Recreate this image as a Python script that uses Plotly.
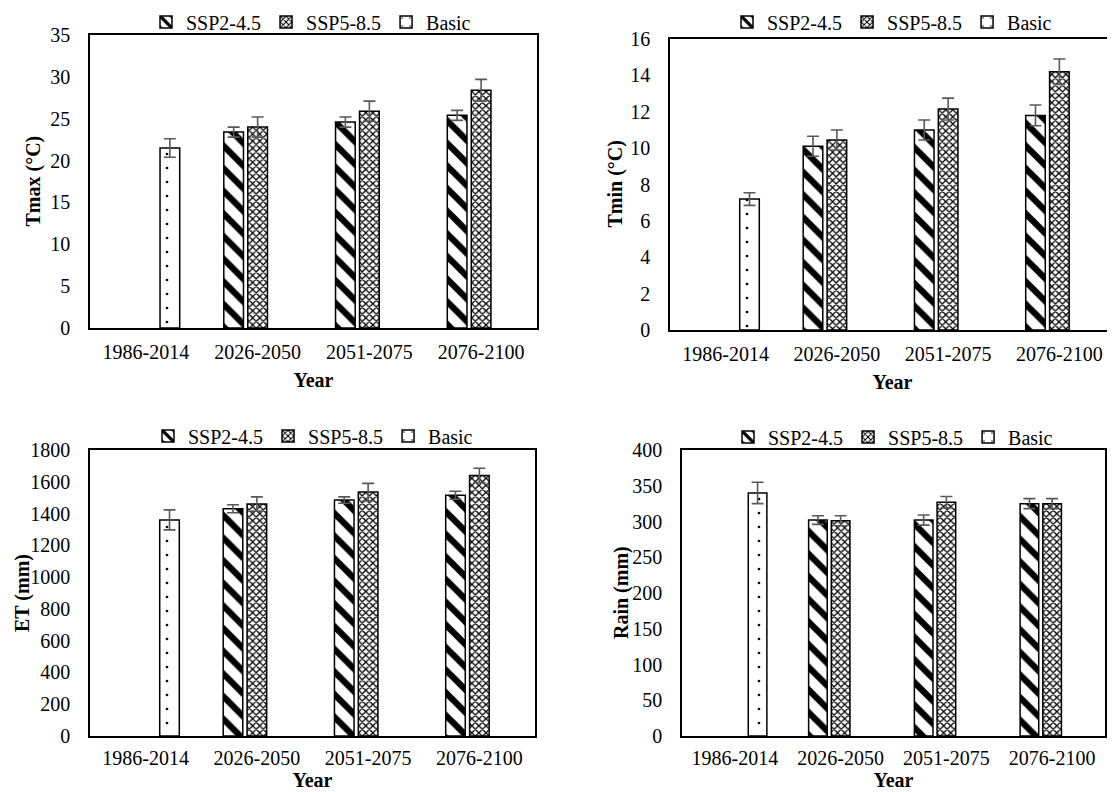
import plotly.graph_objects as go

periods = ["1986-2014", "2026-2050", "2051-2075", "2076-2100"]
future = periods[1:]
base = periods[:1]

tmax_ssp245 = [23.4, 24.6, 25.4]
tmax_ssp245_err = [0.6, 0.6, 0.6]
tmax_ssp585 = [24.0, 25.9, 28.4]
tmax_ssp585_err = [1.2, 1.2, 1.3]
tmax_basic = [21.5]
tmax_basic_err = [1.1]

tmin_ssp245 = [10.1, 11.0, 11.8]
tmin_ssp245_err = [0.55, 0.55, 0.57]
tmin_ssp585 = [10.45, 12.15, 14.2]
tmin_ssp585_err = [0.55, 0.6, 0.7]
tmin_basic = [7.2]
tmin_basic_err = [0.35]

et_ssp245 = [1430, 1485, 1515]
et_ssp245_err = [25, 20, 25]
et_ssp585 = [1460, 1535, 1640]
et_ssp585_err = [45, 55, 45]
et_basic = [1360]
et_basic_err = [63]

rain_ssp245 = [302, 302, 325]
rain_ssp245_err = [6, 7, 7]
rain_ssp585 = [301, 327, 325]
rain_ssp585_err = [7, 8, 7]
rain_basic = [340]
rain_basic_err = [15]

panels = [
    dict(ssp245=tmax_ssp245, e245=tmax_ssp245_err, ssp585=tmax_ssp585, e585=tmax_ssp585_err,
         basic=tmax_basic, eb=tmax_basic_err, ytitle="Tmax (°C)", yrange=[0, 35], dtick=5),
    dict(ssp245=tmin_ssp245, e245=tmin_ssp245_err, ssp585=tmin_ssp585, e585=tmin_ssp585_err,
         basic=tmin_basic, eb=tmin_basic_err, ytitle="Tmin (°C)", yrange=[0, 16], dtick=2),
    dict(ssp245=et_ssp245, e245=et_ssp245_err, ssp585=et_ssp585, e585=et_ssp585_err,
         basic=et_basic, eb=et_basic_err, ytitle="ET (mm)", yrange=[0, 1800], dtick=200),
    dict(ssp245=rain_ssp245, e245=rain_ssp245_err, ssp585=rain_ssp585, e585=rain_ssp585_err,
         basic=rain_basic, eb=rain_basic_err, ytitle="Rain (mm)", yrange=[0, 400], dtick=50),
]

# the page body has an 8px margin, so the figure is drawn 8px in from the top-left corner
W, H = 1107, 784
# plot-area pixel boxes in figure coordinates: (left, right, top, bottom)
boxes = [(82, 529, 27, 320), (662, 1107, 31, 322), (82, 527, 442, 728), (674, 1097, 442, 728)]
legend_pos = [(303, 14), (884, 14), (305, 428), (885, 429)]
ytitle_x = [25, 607, 14, 613]
xlab_standoff = [5, 5, 3, 3]
xtitle_standoff = [11, 11, 5, 5]

FONT = "Liberation Serif, Times New Roman, Tinos, serif"
ERRC = "#595959"
FS = 20

fig = go.Figure()
layout = dict()
annotations = []
for i, p in enumerate(panels):
    n = "" if i == 0 else str(i + 1)
    xa, ya = "x" + n, "y" + n
    lg = "legend" + n
    err = lambda arr: dict(type="data", array=arr, visible=True, color=ERRC, thickness=1.6, width=6)
    fig.add_trace(go.Bar(
        x=future, y=p["ssp245"], name="SSP2-4.5", xaxis=xa, yaxis=ya, legend=lg,
        marker=dict(color="white", line=dict(color="black", width=1.5),
                    pattern=dict(shape="\\", fgcolor="black", bgcolor="white", fgopacity=1,
                                 size=16, solidity=0.4)),
        error_y=err(p["e245"])))
    fig.add_trace(go.Bar(
        x=future, y=p["ssp585"], name="SSP5-8.5", xaxis=xa, yaxis=ya, legend=lg,
        marker=dict(color="white", line=dict(color="black", width=1.5),
                    pattern=dict(shape="x", fgcolor="black", bgcolor="white", fgopacity=1,
                                 size=5, solidity=0.45)),
        error_y=err(p["e585"])))
    fig.add_trace(go.Bar(
        x=base, y=p["basic"], name="Basic", xaxis=xa, yaxis=ya, legend=lg,
        marker=dict(color="white", line=dict(color="black", width=1.5),
                    pattern=dict(shape=".", fgcolor="black", bgcolor="white", fgopacity=1,
                                 size=14, solidity=0.03)),
        error_y=err(p["eb"])))
    l, r, t, b = boxes[i]
    axkey = "xaxis" + n
    aykey = "yaxis" + n
    layout[axkey] = dict(domain=[l / W, min(r / W, 1.0)], anchor=ya, type="category",
                         categoryorder="array", categoryarray=periods, automargin=False,
                         showline=True, linecolor="black", linewidth=1.5, mirror=True,
                         ticks="", showgrid=False, ticklabelstandoff=xlab_standoff[i],
                         tickfont=dict(family=FONT, size=FS, color="black"),
                         title=dict(text="<b>Year</b>", font=dict(family=FONT, size=FS, color="black"),
                                    standoff=xtitle_standoff[i]))
    layout[aykey] = dict(domain=[1 - b / H, 1 - t / H], anchor=xa, range=p["yrange"], dtick=p["dtick"],
                         showline=True, linecolor="black", linewidth=1.5, automargin=False,
                         mirror=(i != 1), ticks="", showgrid=False, zeroline=False,
                         ticklabelstandoff=14,
                         tickfont=dict(family=FONT, size=FS, color="black"))
    annotations.append(dict(text="<b>" + p["ytitle"] + "</b>", textangle=-90, showarrow=False,
                            xref="paper", yref="paper", x=ytitle_x[i] / W, y=1 - (t + b) / 2 / H,
                            xanchor="center", yanchor="middle",
                            font=dict(family=FONT, size=FS, color="black")))
    lx, ly = legend_pos[i]
    layout[lg] = dict(orientation="h", x=lx / W, y=1 - ly / H, xanchor="center", yanchor="middle",
                      font=dict(family=FONT, size=FS, color="black"), bgcolor="rgba(0,0,0,0)",
                      itemwidth=30, tracegroupgap=0, traceorder="normal")

fig.update_layout(**layout)
fig.update_layout(template="none", width=W, height=H, margin=dict(l=0, r=0, t=0, b=0, autoexpand=False),
                  paper_bgcolor="white", plot_bgcolor="white", annotations=annotations,
                  barmode="group", bargap=0.356, bargroupgap=0.18, showlegend=True,
                  font=dict(family=FONT, color="black"))
fig.write_html("out.html")
